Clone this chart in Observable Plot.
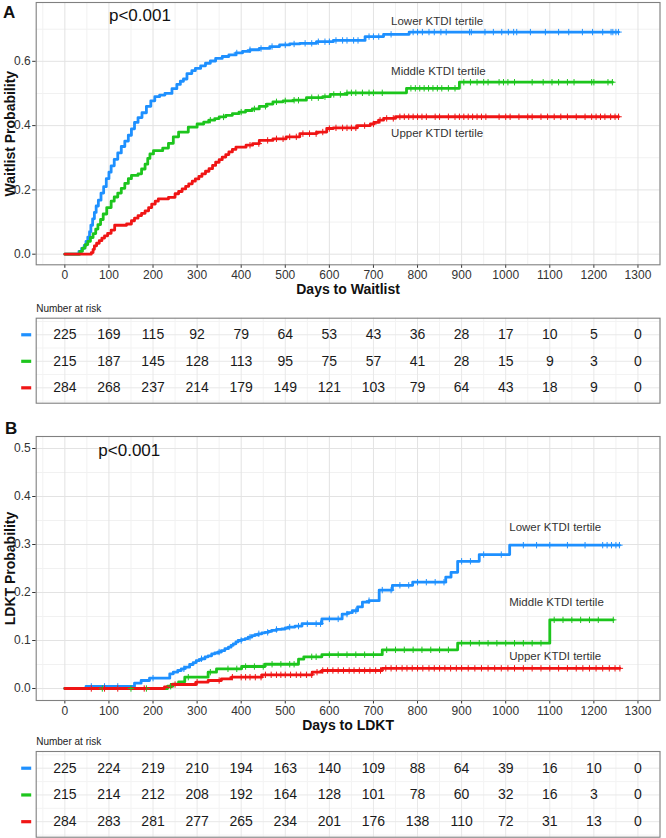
<!DOCTYPE html>
<html><head><meta charset="utf-8">
<script src="https://cdn.jsdelivr.net/npm/d3@7"></script>
<script src="https://cdn.jsdelivr.net/npm/@observablehq/plot@0.6"></script>
<style>
body{margin:0;background:#fff;font-family:"Liberation Sans",Arial,sans-serif;}
#wrap{position:relative;width:666px;height:838px;overflow:hidden;background:#fff;}
.blk{position:absolute;left:0;}
.letter{position:absolute;font-weight:bold;font-size:17px;color:#111;line-height:1;}
</style></head><body><div id="wrap"></div>
<script>
// ---------- data ----------
const groupNames = ["Lower KTDI tertile", "Middle KTDI tertile", "Upper KTDI tertile"];
const groupColors = ["#1E90FF", "#1DC51D", "#F01515"];
const riskDays = [0,100,200,300,400,500,600,700,800,900,1000,1100,1200,1300];
const xMajor = [0,100,200,300,400,500,600,700,800,900,1000,1100,1200,1300];
const xMinor = [-50,50,150,250,350,450,550,650,750,850,950,1050,1150,1250,1350];

// Panel A: waitlist
const waitLowerDays = [0,32,38,44,48,52,56,59,63,67,
 71,76,82,88,94,100,105,112,120,128,
 136,144,151,158,166,175,185,195,204,215,
 227,243,254,262,269,277,288,296,308,319,
 330,342,357,372,388,403,420,441,465,487,
 510,533,571,609,681,723,781];
const waitLowerProb = [0,0.009,0.018,0.027,0.04,0.053,0.07,0.09,0.11,0.13,
 0.15,0.168,0.19,0.21,0.235,0.255,0.275,0.295,0.315,0.335,
 0.352,0.37,0.39,0.41,0.425,0.44,0.46,0.477,0.49,0.495,
 0.5,0.515,0.528,0.538,0.545,0.562,0.571,0.578,0.586,0.594,
 0.601,0.609,0.615,0.62,0.626,0.631,0.636,0.64,0.646,0.651,
 0.654,0.656,0.661,0.665,0.677,0.684,0.691];
const waitMiddleDays = [0,34,40,46,52,58,64,70,75,81,
 87,95,105,112,120,128,136,144,151,166,
 174,182,188,193,201,222,235,246,258,280,
 300,315,327,340,350,365,380,395,410,425,
 441,458,472,495,518,548,585,602,640,775,
 895];
const waitMiddleProb = [0,0.009,0.019,0.03,0.04,0.052,0.064,0.078,0.092,0.108,
 0.125,0.145,0.165,0.178,0.19,0.205,0.22,0.235,0.245,0.25,
 0.265,0.28,0.298,0.312,0.322,0.33,0.345,0.365,0.38,0.395,
 0.405,0.411,0.417,0.422,0.427,0.432,0.437,0.442,0.447,0.452,
 0.46,0.467,0.474,0.477,0.479,0.487,0.49,0.497,0.502,0.516,
 0.535];
const waitUpperDays = [0,60,64,67,72,78,84,90,97,105,
 113,140,151,158,166,174,182,190,197,205,
 212,235,250,258,266,274,281,289,296,304,
 311,319,327,335,342,350,357,365,372,380,
 388,411,426,441,472,502,533,571,594,609,
 663,693,701,712,723,750];
const waitUpperProb = [0,0.005,0.015,0.026,0.034,0.042,0.05,0.057,0.065,0.075,
 0.09,0.094,0.104,0.112,0.12,0.127,0.135,0.145,0.156,0.165,
 0.172,0.177,0.188,0.195,0.203,0.211,0.219,0.227,0.234,0.242,
 0.25,0.258,0.266,0.276,0.286,0.294,0.302,0.31,0.318,0.326,
 0.333,0.339,0.344,0.354,0.359,0.365,0.375,0.38,0.391,0.393,
 0.4,0.405,0.41,0.417,0.4225,0.4275];
const waitEnd = [1256, 1242, 1256];
const waitLowerCens = [390,420,445,470,500,520,545,560,575,590,600,615,630,640,655,665,690,700,712,740,790,800,811,826,838,853,865,918,922,953,972,991,1006,1018,1025,1056,1090,1120,1143,1174,1197,1220,1239,1243,1250,1256];
const waitMiddleCens = [330,360,400,430,455,480,500,520,530,560,575,590,610,625,640,650,660,675,690,700,720,785,795,805,815,825,835,845,855,870,885,905,920,935,950,960,985,995,1005,1020,1060,1085,1105,1120,1140,1155,1195,1200,1232,1242];
const waitUpperCens = [420,440,460,480,495,510,525,540,555,570,585,600,615,630,640,650,660,680,700,715,730,745,760,770,780,790,800,810,820,840,850,870,885,895,905,915,925,935,945,955,985,1000,1010,1030,1050,1060,1080,1095,1110,1125,1140,1160,1180,1195,1205,1215,1225,1238,1248,1256];
const waitRiskLower = [225,169,115,92,79,64,53,43,36,28,17,10,5,0];
const waitRiskMiddle = [215,187,145,128,113,95,75,57,41,28,15,9,3,0];
const waitRiskUpper = [284,268,237,214,179,149,121,103,79,64,43,18,9,0];
const waitLabelDay = [740,740,740];
const waitLabelProb = [0.725,0.5685,0.3765];

// Panel B: LDKT
const ldktLowerDays = [0,48,158,173,192,238,246,256,264,272,
 283,291,298,305,310,318,325,333,340,348,
 355,363,371,377,382,388,393,401,409,416,
 424,431,439,447,454,462,469,480,492,500,
 507,522,538,583,629,641,652,664,675,690,
 713,743,789,864,876,891,940,1009];
const ldktLowerProb = [0,0.0044,0.011,0.0167,0.0215,0.0306,0.034,0.0375,0.041,0.0444,
 0.05,0.054,0.058,0.06,0.062,0.066,0.068,0.072,0.074,0.076,
 0.079,0.083,0.086,0.09,0.093,0.097,0.1,0.102,0.104,0.107,
 0.11,0.112,0.114,0.116,0.117,0.119,0.121,0.123,0.124,0.126,
 0.128,0.13,0.135,0.145,0.155,0.158,0.162,0.17,0.18,0.183,
 0.205,0.215,0.2215,0.232,0.242,0.265,0.279,0.2986];
const ldktMiddleDays = [0,233,245,258,272,325,344,401,454,530,542,583,720,891,1100];
const ldktMiddleProb = [0,0.0047,0.0093,0.014,0.0236,0.034,0.041,0.0458,0.0505,0.061,0.066,0.0705,0.0806,0.0944,0.143];
const ldktUpperDays = [0,226,241,298,325,355,378,447,561,583,720];
const ldktUpperProb = [0,0.0035,0.0083,0.0132,0.0167,0.02,0.0236,0.0285,0.034,0.0375,0.042];
const ldktEnd = [1258, 1244, 1259];
const ldktLowerCens = [60,90,120,200,270,310,350,400,420,440,460,480,510,530,550,570,580,600,620,640,660,690,720,740,760,780,800,820,840,860,900,920,950,990,1040,1070,1100,1140,1180,1220,1230,1240,1250,1258];
const ldktMiddleCens = [85,150,185,240,280,330,370,390,410,430,450,470,490,510,520,560,570,600,620,640,660,680,700,730,750,770,790,810,830,850,870,900,920,940,960,980,1000,1020,1040,1060,1080,1110,1130,1150,1170,1190,1210,1244];
const ldktUpperCens = [60,90,120,180,250,300,350,380,400,410,420,432,445,455,468,480,490,500,512,525,535,548,560,572,585,596,608,620,632,645,656,668,680,692,705,716,728,740,752,765,776,788,800,812,826,838,850,862,875,888,900,915,930,945,960,975,990,1005,1020,1040,1060,1080,1100,1120,1140,1160,1175,1190,1205,1220,1235,1248,1259];
const ldktRiskLower = [225,224,219,210,194,163,140,109,88,64,39,16,10,0];
const ldktRiskMiddle = [215,214,212,208,192,164,128,101,78,60,32,16,3,0];
const ldktRiskUpper = [284,283,281,277,265,234,201,176,138,110,72,31,13,0];
const ldktLabelDay = [1008,1008,1008];
const ldktLabelProb = [0.336,0.18,0.0667];

// ---------- drawing ----------
const FONT = "Liberation Sans, Arial, sans-serif";
const X_DOMAIN = [-65, 1350];
const ML = 35.7, MR = 6.5, W = 666;
const wrap = document.getElementById("wrap");

function place(el, top) {
  const d = document.createElement("div");
  d.className = "blk"; d.style.top = top + "px";
  d.appendChild(el); wrap.appendChild(d);
}
function letter(txt, left, top) {
  const d = document.createElement("div");
  d.className = "letter"; d.textContent = txt;
  d.style.left = left + "px"; d.style.top = top + "px";
  wrap.appendChild(d);
}

function survPanel(cfg) {
  const marks = [
    Plot.ruleX(xMinor, {stroke: "#f1f1f1", strokeWidth: 1}),
    Plot.ruleY(cfg.yMinor, {stroke: "#f1f1f1", strokeWidth: 1}),
    Plot.ruleX(xMajor, {stroke: "#e3e3e3", strokeWidth: 1}),
    Plot.ruleY(cfg.yTicks, {stroke: "#e3e3e3", strokeWidth: 1})
  ];
  const censMarks = [];
  cfg.series.forEach((s, i) => {
    const pts = s.days.map((d, k) => ({t: d, p: s.prob[k]}));
    pts.push({t: s.end, p: s.prob[s.prob.length - 1]});
    const bis = d3.bisector(d => d.t).right;
    const cens = s.cens.map(c => ({t: c, p: pts[Math.max(0, bis(pts, c) - 1)].p}));
    marks.push(Plot.line(pts, {x: "t", y: "p", curve: "step-after", stroke: groupColors[i], strokeWidth: 2.8}));
    censMarks.push(Plot.dot(cens, {x: "t", y: "p", symbol: "plus", r: 2.2, stroke: groupColors[i], strokeWidth: 1}));
  });
  marks.push(...censMarks);
  marks.push(
    Plot.text(groupNames.map((n, i) => ({n, d: cfg.labelDay[i], p: cfg.labelProb[i]})),
      {x: "d", y: "p", text: "n", textAnchor: "start", lineAnchor: "middle", fontSize: 11.5, fill: "#333"}),
    Plot.text(["p<0.001"], {x: cfg.pDay, y: cfg.pProb, text: d => d, textAnchor: "start", lineAnchor: "middle", fontSize: 17, fill: "#111"}),
    Plot.axisX({ticks: xMajor, tickSize: 3.5, tickPadding: 2.5, fontSize: 12, label: null, color: "#333", tickFormat: d => String(d)}),
    Plot.axisY({ticks: cfg.yTicks, tickSize: 3.5, tickPadding: 2, fontSize: 12, label: null, color: "#333", tickFormat: d3.format(".1f")}),
    Plot.text([cfg.xLabel], {frameAnchor: "bottom", dy: 25, text: d => d, fontWeight: "bold", fontSize: 14, textAnchor: "middle", lineAnchor: "middle", fill: "#111"}),
    Plot.text([cfg.yLabel], {frameAnchor: "left", dx: -26, rotate: -90, text: d => d, fontWeight: "bold", fontSize: 14, textAnchor: "middle", lineAnchor: "middle", fill: "#111"}),
    Plot.frame({stroke: "#808080", strokeWidth: 1.1})
  );
  return Plot.plot({
    width: W, height: cfg.height,
    marginLeft: ML, marginRight: MR, marginTop: cfg.mTop, marginBottom: cfg.mBottom,
    x: {domain: X_DOMAIN, axis: null},
    y: {domain: cfg.yDomain, axis: null},
    style: {fontFamily: FONT, background: "transparent", color: "#333", overflow: "visible"},
    marks
  });
}

const dashSymbol = {draw(ctx) { ctx.moveTo(-5, 0); ctx.lineTo(5, 0); }};

function riskTable(cfg) {
  const cells = [];
  cfg.counts.forEach((arr, gi) => arr.forEach((n, j) => cells.push({t: riskDays[j], row: gi + 1, n})));
  const rows = [1, 2, 3];
  return Plot.plot({
    width: W, height: cfg.height,
    marginLeft: ML, marginRight: MR, marginTop: cfg.mTop, marginBottom: cfg.mBottom,
    x: {domain: X_DOMAIN, axis: null},
    y: {domain: [0.375, 3.58], reverse: true, axis: null},
    style: {fontFamily: FONT, background: "transparent", color: "#222", overflow: "visible"},
    marks: [
      Plot.ruleX(xMinor, {stroke: "#f3f3f3"}),
      Plot.ruleY([0.5, 1.5, 2.5, 3.5], {stroke: "#f3f3f3"}),
      Plot.ruleX(xMajor, {stroke: "#e8e8e8"}),
      Plot.ruleY(rows, {stroke: "#e8e8e8"}),
      Plot.text(cells, {x: "t", y: "row", text: "n", fontSize: 14, fill: "#1a1a1a", lineAnchor: "middle"}),
      Plot.dot(rows, {y: d => d, frameAnchor: "left", dx: -10, symbol: dashSymbol, fill: "none",
        stroke: (d, i) => groupColors[i], strokeWidth: 3.2}),
      Plot.text(["Number at risk"], {frameAnchor: "top-left", dy: -9.5, text: d => d, textAnchor: "start", lineAnchor: "middle", fontSize: 10, fill: "#222"}),
      Plot.frame({stroke: "#808080", strokeWidth: 1.1})
    ]
  });
}

// Panel A
place(survPanel({
  height: 300, mTop: 2, mBottom: 35.7,
  yDomain: [-0.033, 0.783], yTicks: [0, 0.2, 0.4, 0.6], yMinor: [0.1, 0.3, 0.5, 0.7],
  series: [
    {days: waitLowerDays, prob: waitLowerProb, end: waitEnd[0], cens: waitLowerCens},
    {days: waitMiddleDays, prob: waitMiddleProb, end: waitEnd[1], cens: waitMiddleCens},
    {days: waitUpperDays, prob: waitUpperProb, end: waitEnd[2], cens: waitUpperCens}
  ],
  labelDay: waitLabelDay, labelProb: waitLabelProb,
  pDay: 100, pProb: 0.743,
  xLabel: "Days to Waitlist", yLabel: "Waitlist Probability"
}), 0);

place(riskTable({height: 105, mTop: 17.7, mBottom: 2.3, counts: [waitRiskLower, waitRiskMiddle, waitRiskUpper]}), 300);

// Panel B
place(survPanel({
  height: 317, mTop: 16, mBottom: 37,
  yDomain: [-0.025, 0.525], yTicks: [0, 0.1, 0.2, 0.3, 0.4, 0.5], yMinor: [0.05, 0.15, 0.25, 0.35, 0.45],
  series: [
    {days: ldktLowerDays, prob: ldktLowerProb, end: ldktEnd[0], cens: ldktLowerCens},
    {days: ldktMiddleDays, prob: ldktMiddleProb, end: ldktEnd[1], cens: ldktMiddleCens},
    {days: ldktUpperDays, prob: ldktUpperProb, end: ldktEnd[2], cens: ldktUpperCens}
  ],
  labelDay: ldktLabelDay, labelProb: ldktLabelProb,
  pDay: 76, pProb: 0.496,
  xLabel: "Days to LDKT", yLabel: "LDKT Probability"
}), 420);

place(riskTable({height: 101, mTop: 14, mBottom: 1.3, counts: [ldktRiskLower, ldktRiskMiddle, ldktRiskUpper]}), 737);

letter("A", 3, 4);
letter("B", 5, 420);
</script></body></html>
